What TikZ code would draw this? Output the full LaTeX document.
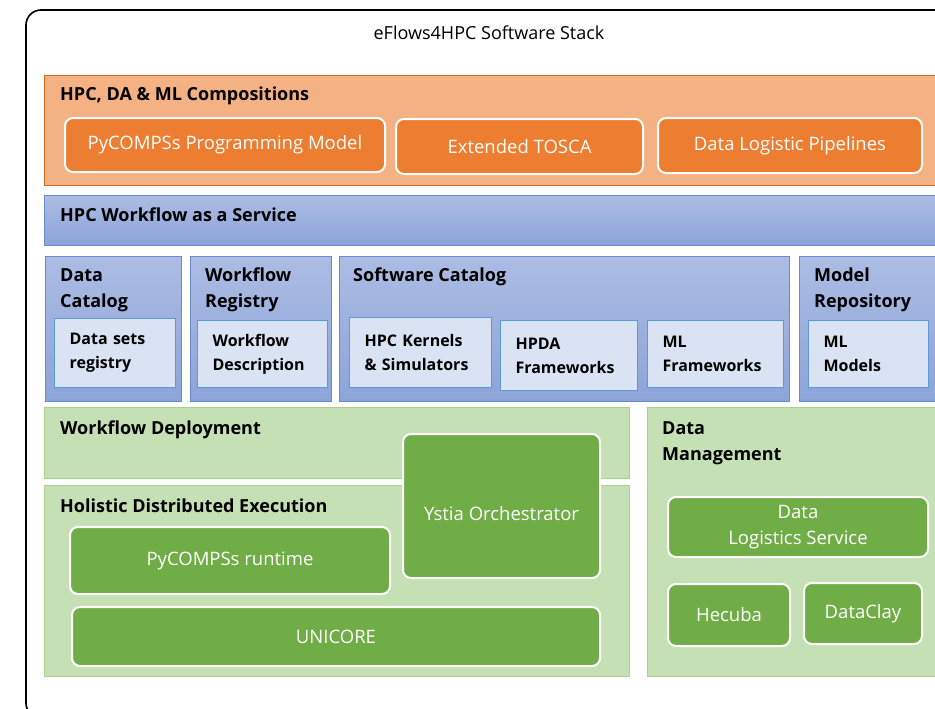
\documentclass[tikz,border=0pt]{standalone}
\usepackage{fontspec}
\setmainfont{Open Sans}

\definecolor{orlight}{RGB}{244,177,131}
\definecolor{ordark}{RGB}{237,125,49}
\definecolor{orline}{RGB}{214,108,36}
\definecolor{bltop}{RGB}{172,188,227}
\definecolor{blbot}{RGB}{140,164,217}
\definecolor{blline}{RGB}{105,138,206}
\definecolor{blpale}{RGB}{218,227,243}
\definecolor{blinner}{RGB}{91,155,213}
\definecolor{grlight}{RGB}{197,224,180}
\definecolor{grline}{RGB}{169,209,142}
\definecolor{grdark}{RGB}{112,173,71}

\begin{document}
\begin{tikzpicture}[x=1pt, y=-1pt,
    every node/.style={font=\fontsize{18.5}{26}\selectfont},
    band/.style={anchor=north west, line width=0.8pt, inner sep=0pt},
    head/.style={anchor=west, align=left, inner sep=0pt, font=\fontsize{18}{26}\selectfont\bfseries},
    inbox/.style={anchor=north west, draw=blinner, fill=blpale, line width=1.2pt,
        align=left, inner xsep=15pt, font=\fontsize{16}{24}\selectfont\bfseries},
    obox/.style={anchor=north west, draw=white, fill=ordark, text=white, line width=2pt,
        rounded corners=8pt, align=center},
    gbox/.style={anchor=north west, draw=white, fill=grdark, text=white, line width=2pt,
        rounded corners=8pt, align=center}]
    \useasboundingbox (0,0) rectangle (935,709);
    \clip (0,0) rectangle (935,709);
    \draw[line width=1.6pt, rounded corners=15pt] (26,10) rectangle (990,718);
    \node[font=\fontsize{18}{22}\selectfont] (title) at (489,33) {eFlows4HPC Software Stack};

    \node[band, draw=orline, fill=orlight, minimum width=950pt, minimum height=110pt] (comp) at (44,75) {};
    \node[head] (comphead) at (60,96) {HPC, DA \& ML Compositions};
    \node[obox, minimum width=320pt, minimum height=54pt] (pcpm) at (64,117) {PyCOMPSs Programming Model};
    \node[obox, minimum width=247pt, minimum height=55pt] (tosca) at (395,118) {Extended TOSCA};
    \node[obox, minimum width=264pt, minimum height=55pt] (dlp) at (657,117) {Data Logistic Pipelines};

    \node[band, draw=blline, top color=bltop, bottom color=blbot, minimum width=950pt, minimum height=50pt] (wfaas) at (44,195) {};
    \node[head] (wfaashead) at (60,215) {HPC Workflow as a Service};

    \node[band, draw=blline, top color=bltop, bottom color=blbot, minimum width=136pt, minimum height=145pt] (dcat) at (45,256) {};
    \node[head] (dcathead) at (60,290) {Data\\Catalog};
    \node[inbox, text width=91pt, minimum height=69pt] (dsr) at (54,318) {Data sets\\registry};

    \node[band, draw=blline, top color=bltop, bottom color=blbot, minimum width=141pt, minimum height=145pt] (wreg) at (190,256) {};
    \node[head] (wreghead) at (205,290) {Workflow\\Registry};
    \node[inbox, text width=100pt, minimum height=67pt] (wfd) at (197,320) {Workflow\\Description};

    \node[band, draw=blline, top color=bltop, bottom color=blbot, minimum width=450pt, minimum height=145pt] (scat) at (339,256) {};
    \node[head] (scathead) at (353,277) {Software Catalog};
    \node[inbox, text width=112pt, minimum height=70pt] (hpck) at (349,317) {HPC Kernels\\\& Simulators};
    \node[inbox, text width=107pt, minimum height=70pt] (hpda) at (500,320) {HPDA\\Frameworks};
    \node[inbox, text width=106pt, minimum height=67pt] (mlf) at (647,320) {ML\\Frameworks};

    \node[band, draw=blline, top color=bltop, bottom color=blbot, minimum width=160pt, minimum height=145pt] (mrep) at (799,256) {};
    \node[head] (mrephead) at (814,290) {Model\\Repository};
    \node[inbox, text width=90pt, minimum height=67pt] (mlm) at (808,320) {ML\\Models};

    \node[band, draw=grline, fill=grlight, minimum width=585pt, minimum height=71pt] (wdep) at (44,407) {};
    \node[head] (wdephead) at (60,430) {Workflow Deployment};
    \node[band, draw=grline, fill=grlight, minimum width=585pt, minimum height=191pt] (hde) at (44,485) {};
    \node[head] (hdehead) at (60,506) {Holistic Distributed Execution};
    \node[band, draw=grline, fill=grlight, minimum width=320pt, minimum height=269pt] (dman) at (647,407) {};
    \node[head] (dmanhead) at (662,443) {Data\\Management};

    \node[gbox, minimum width=197pt, minimum height=144pt] (ystia) at (402,433) {\raisebox{-8pt}[\height][\depth]{Ystia Orchestrator}};
    \node[gbox, minimum width=320pt, minimum height=67pt] (pyrt) at (69,526) {PyCOMPSs runtime};
    \node[gbox, minimum width=528pt, minimum height=59pt] (unic) at (71,606) {UNICORE};
    \node[gbox, minimum width=260pt, minimum height=60pt] (dls) at (667,496) {Data\\Logistics Service};
    \node[gbox, minimum width=122pt, minimum height=62pt] (hec) at (667,583) {Hecuba};
    \node[gbox, minimum width=118pt, minimum height=61pt] (dcl) at (803,582) {DataClay};
\end{tikzpicture}
\end{document}
